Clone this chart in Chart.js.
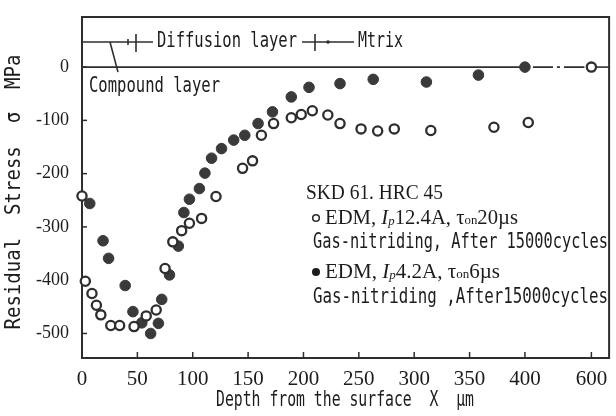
<!DOCTYPE html>
<html>
<head>
<meta charset="utf-8">
<script src="https://cdn.jsdelivr.net/npm/chart.js@4.4.1/dist/chart.umd.min.js"></script>
<style>
  html, body { margin: 0; padding: 0; background: #fff; }
  #wrap { width: 616px; height: 416px; }
</style>
</head>
<body>
<div id="wrap"><canvas id="chart" width="616" height="416"></canvas></div>
<script>
// EDM Ip 12.4A, ton 20us (open circles)
const openDepth = [0, 3, 9, 13, 17, 26, 34, 47, 58, 67, 75, 82, 90, 97, 108, 121, 145, 154, 162, 173, 189, 198, 208, 222, 233, 252, 267, 282, 315, 372, 410, 600]
const openStress = [-242, -402, -425, -447, -465, -485, -485, -487, -467, -456, -378, -328, -307, -293, -284, -243, -190, -176, -128, -106, -95, -89, -82, -90, -106, -116, -120, -116, -119, -113, -104, 0]

// EDM Ip 4.2A, ton 6us (filled circles)
const filledDepth = [7, 19, 24, 39, 46, 54, 62, 69, 72, 79, 87, 92, 97, 106, 111, 117, 126, 137, 147, 159, 172, 189, 205, 233, 263, 311, 358, 400]
const filledStress = [-256, -326, -359, -410, -459, -480, -500, -481, -436, -390, -336, -273, -248, -228, -199, -171, -153, -137, -128, -106, -84, -56, -38, -31, -23, -28, -15, 0]

const xTickValues = [0, 50, 100, 150, 200, 250, 300, 350, 400, 600]
const yTickValues = [0, -100, -200, -300, -400, -500]

// axis is broken after 400 um: the part beyond it is squeezed
const breakAt = 400
const breakScale = 0.3
function depthToAxis(d) {
    if (d <= breakAt) return d
    return breakAt + (d - breakAt) * breakScale
}

function toPoints(xs, ys) {
    return xs.map((x, i) => ({ x: depthToAxis(x), y: ys[i], depth: x }))
}

const ink = '#2e2e2e'
const textInk = '#1c1c1c'

// draws text squeezed/stretched to a given width
function fitText(ctx, text, x, y, font, width, align) {
    ctx.save()
    ctx.font = font
    var w = ctx.measureText(text).width
    ctx.translate(x, y)
    ctx.scale(width / w, 1)
    ctx.textBaseline = 'middle'
    ctx.textAlign = 'left'
    ctx.fillText(text, align == 'center' ? -w / 2 : 0, 0)
    ctx.restore()
}

// several runs of text (italic, subscripts) fitted to one width
function fitRuns(ctx, runs, x, y, width) {
    ctx.save()
    var total = 0
    runs.forEach(r => { ctx.font = r.f; r.w = ctx.measureText(r.t).width; total += r.w })
    ctx.translate(x, y)
    ctx.scale(width / total, 1)
    ctx.textBaseline = 'middle'
    var cx = 0
    runs.forEach(r => {
        ctx.font = r.f
        ctx.fillText(r.t, cx, r.dy || 0)
        cx += r.w
    })
    ctx.restore()
}

const serif = 'Liberation Serif'
const mono = 'DejaVu Sans Mono'

const framePlugin = {
    id: 'frame',
    beforeDatasetsDraw(chart) {
        const ctx = chart.ctx
        const a = chart.chartArea
        const xs = chart.scales.x
        const ys = chart.scales.y
        ctx.save()
        ctx.strokeStyle = ink
        ctx.lineWidth = 2
        // box
        ctx.strokeRect(a.left, a.top, a.right - a.left, a.bottom - a.top)
        // inward ticks
        ctx.lineWidth = 1.5
        yTickValues.forEach(v => {
            var py = ys.getPixelForValue(v)
            ctx.beginPath(); ctx.moveTo(a.left, py); ctx.lineTo(a.left + 5, py); ctx.stroke()
        })
        xTickValues.forEach(v => {
            var px = xs.getPixelForValue(depthToAxis(v))
            ctx.beginPath(); ctx.moveTo(px, a.bottom); ctx.lineTo(px, a.bottom - 6); ctx.stroke()
        })
        // zero line, matrix part dash-dot
        var y0 = ys.getPixelForValue(0)
        var p400 = xs.getPixelForValue(depthToAxis(400))
        var p600 = xs.getPixelForValue(depthToAxis(600))
        ctx.lineWidth = 1.6
        ctx.beginPath(); ctx.moveTo(a.left, y0); ctx.lineTo(p400, y0); ctx.stroke()
        ctx.beginPath(); ctx.moveTo(p600, y0); ctx.lineTo(a.right, y0); ctx.stroke()
        ctx.setLineDash([20, 4, 3, 4, 40])
        ctx.beginPath(); ctx.moveTo(p400 + 8, y0); ctx.lineTo(p600 - 7, y0); ctx.stroke()
        ctx.setLineDash([])

        // diffusion layer marker line
        var yd = ys.getPixelForValue(47)
        ctx.beginPath(); ctx.moveTo(a.left, yd); ctx.lineTo(153, yd); ctx.stroke()
        ctx.beginPath(); ctx.moveTo(136, yd - 8); ctx.lineTo(136, yd + 10); ctx.stroke()
        ctx.beginPath(); ctx.moveTo(128, yd - 3); ctx.lineTo(128, yd + 3); ctx.stroke()
        ctx.beginPath(); ctx.moveTo(302, yd); ctx.lineTo(354, yd); ctx.stroke()
        ctx.beginPath(); ctx.moveTo(315, yd - 8); ctx.lineTo(315, yd + 9); ctx.stroke()
        ctx.fillStyle = ink
        ctx.beginPath(); ctx.arc(328, yd, 1.8, 0, Math.PI * 2); ctx.fill()
        // compound layer pointer
        ctx.beginPath(); ctx.moveTo(110, yd); ctx.lineTo(118, y0 + 5); ctx.stroke()
        ctx.restore()
    },
    afterDraw(chart) {
        const ctx = chart.ctx
        ctx.save()
        ctx.fillStyle = textInk
        fitText(ctx, 'Diffusion layer', 157, 42, '21px ' + mono, 140)
        fitText(ctx, 'Mtrix', 358, 42, '21px ' + mono, 45)
        fitText(ctx, 'Compound layer', 89, 87, '21px ' + mono, 131)

        // axis titles
        ctx.save()
        ctx.translate(15, 192)
        ctx.rotate(-Math.PI / 2)
        fitText(ctx, 'Residual  Stress  σ  MPa', 0, 0, '21px ' + mono, 275, 'center')
        ctx.restore()
        fitText(ctx, 'Depth from the surface  X  µm', 345, 400, '22px ' + mono, 258, 'center')

        // legend block
        fitText(ctx, 'SKD 61. HRC 45', 306, 193, '21px ' + serif, 137)
        ctx.strokeStyle = ink
        ctx.lineWidth = 1.6
        ctx.beginPath(); ctx.arc(316, 218, 3.3, 0, Math.PI * 2); ctx.stroke()
        const big = '21px ' + serif
        const ital = 'italic 21px ' + serif
        const sub = 'italic 13px ' + serif
        const subR = '13px ' + serif
        fitRuns(ctx, [
            { t: 'EDM, ', f: big }, { t: 'I', f: ital }, { t: 'p', f: sub, dy: 4 },
            { t: '12.4A, ', f: big }, { t: 'τ', f: big }, { t: 'on', f: subR, dy: 3 }, { t: '20µs', f: big }
        ], 325, 218, 193)
        fitText(ctx, 'Gas-nitriding, After 15000cycles', 313, 242, '22px ' + mono, 295)
        ctx.beginPath(); ctx.arc(316, 272, 4, 0, Math.PI * 2); ctx.fill()
        fitRuns(ctx, [
            { t: 'EDM, ', f: big }, { t: 'I', f: ital }, { t: 'p', f: sub, dy: 4 },
            { t: '4.2A, ', f: big }, { t: 'τ', f: big }, { t: 'on', f: subR, dy: 3 }, { t: '6µs', f: big }
        ], 325, 272, 175)
        fitText(ctx, 'Gas-nitriding ,After15000cycles', 313, 297, '22px ' + mono, 295)
        ctx.restore()
    }
}

new Chart(document.getElementById('chart'), {
    type: 'scatter',
    data: {
        datasets: [
            {
                label: 'EDM, Ip12.4A, ton20us',
                data: toPoints(openDepth, openStress),
                pointRadius: 4.6,
                borderWidth: 2.3,
                borderColor: ink,
                backgroundColor: '#fff',
                clip: false
            },
            {
                label: 'EDM, Ip4.2A, ton6us',
                data: toPoints(filledDepth, filledStress),
                pointRadius: 5.3,
                borderWidth: 1,
                borderColor: '#3a3a3a',
                backgroundColor: '#3a3a3a',
                clip: false
            }
        ]
    },
    options: {
        responsive: false,
        animation: false,
        layout: { padding: { top: 17, right: 3, left: 0, bottom: 0 } },
        plugins: {
            legend: { display: false },
            tooltip: { enabled: false }
        },
        scales: {
            x: {
                type: 'linear',
                min: 0,
                max: 476,
                grid: { display: false },
                border: { display: false },
                afterBuildTicks: s => { s.ticks = xTickValues.map(v => ({ value: depthToAxis(v), label: String(v) })) },
                afterFit: s => { s.height = 58 },
                ticks: {
                    autoSkip: false,
                    maxRotation: 0,
                    padding: 1,
                    color: textInk,
                    font: { family: serif, size: 21 },
                    callback: (v, i) => String(xTickValues[i])
                }
            },
            y: {
                min: -546,
                max: 94,
                grid: { display: false },
                border: { display: false },
                afterBuildTicks: s => { s.ticks = yTickValues.map(v => ({ value: v })) },
                afterFit: s => { s.width = 82 },
                ticks: {
                    padding: 5,
                    color: textInk,
                    font: { family: serif, size: 18 },
                    callback: v => String(v)
                }
            }
        }
    },
    plugins: [framePlugin]
})
</script>
</body>
</html>
